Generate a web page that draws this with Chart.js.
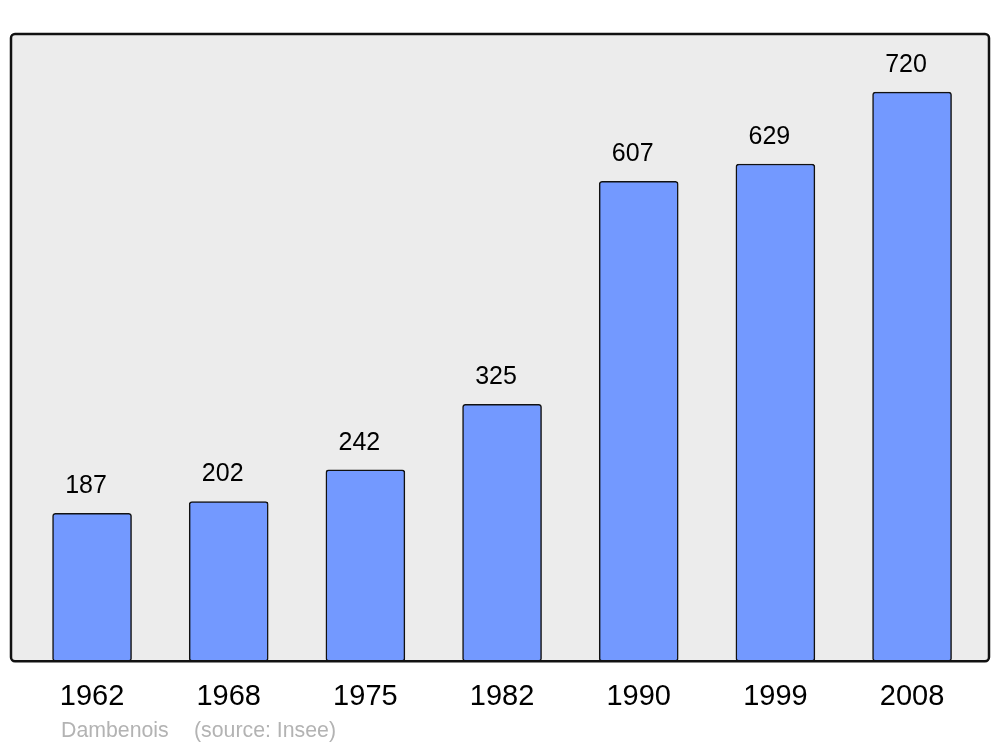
<!DOCTYPE html>
<html>
<head>
<meta charset="utf-8">
<script src="https://cdn.jsdelivr.net/npm/chart.js@4/dist/chart.umd.min.js"></script>
<style>
  html, body { margin: 0; padding: 0; background: #fff; }
  #wrap { width: 1000px; height: 747px; }
</style>
</head>
<body>
<div id="wrap"><canvas id="popChart" width="1000" height="747"></canvas></div>
<script>
// Population data
const years = ["1962", "1968", "1975", "1982", "1990", "1999", "2008"];
const population = [187, 202, 242, 325, 607, 629, 720];
const place = "Dambenois";
const source = "(source: Insee)";

const font = "'Liberation Sans', Arial, sans-serif";

// background panel with rounded border
const panel = {
    id: "panel",
    beforeDatasetsDraw(chart) {
        const { ctx, chartArea: a } = chart;
        ctx.save();
        ctx.beginPath();
        ctx.roundRect(a.left, a.top, a.right - a.left, a.bottom - a.top, 4);
        ctx.fillStyle = "#ececec";
        ctx.fill();
        ctx.restore();
    },
    afterDatasetsDraw(chart) {
        const { ctx, chartArea: a } = chart;
        ctx.save();
        ctx.beginPath();
        ctx.roundRect(a.left, a.top, a.right - a.left, a.bottom - a.top, 4);
        ctx.lineWidth = 2.5;
        ctx.strokeStyle = "#111";
        ctx.stroke();

        // value labels above bars (slightly left of centre, as in the original)
        ctx.fillStyle = "#000";
        ctx.font = "25px " + font;
        ctx.textAlign = "center";
        ctx.textBaseline = "middle";
        chart.getDatasetMeta(0).data.forEach((bar, i) => {
            ctx.fillText(String(population[i]), bar.x - 6, bar.y - 27);
        });

        // footer
        ctx.fillStyle = "#b3b3b3";
        ctx.font = "21.3px " + font;
        ctx.textAlign = "left";
        ctx.fillText(place, 61, 731);
        ctx.fillText(source, 194, 731);
        ctx.restore();
    }
};

new Chart(document.getElementById("popChart"), {
    type: "bar",
    data: {
        datasets: [{
            data: population.map((v, i) => ({ x: i, y: v })),
            backgroundColor: "#7399ff",
            borderColor: "#111",
            borderWidth: 1.5,
            borderRadius: 3,
            borderSkipped: false,
            barThickness: 79
        }]
    },
    options: {
        responsive: false,
        animation: false,
        layout: { padding: { left: 11, right: 11, top: 34, bottom: 15 } },
        plugins: { legend: { display: false }, tooltip: { enabled: false } },
        scales: {
            x: {
                type: "linear",
                offset: false,
                min: -0.593,
                max: 6.563,
                grid: { display: false, drawTicks: false },
                border: { display: false },
                afterBuildTicks: axis => { axis.ticks = years.map((_, i) => ({ value: i })); },
                ticks: {
                    autoSkip: false,
                    maxRotation: 0,
                    padding: 18,
                    color: "#000",
                    font: { family: font, size: 29 },
                    callback: v => years[v]
                }
            },
            y: {
                display: false,
                min: 0,
                max: 793.5
            }
        }
    },
    plugins: [panel]
});
</script>
</body>
</html>
